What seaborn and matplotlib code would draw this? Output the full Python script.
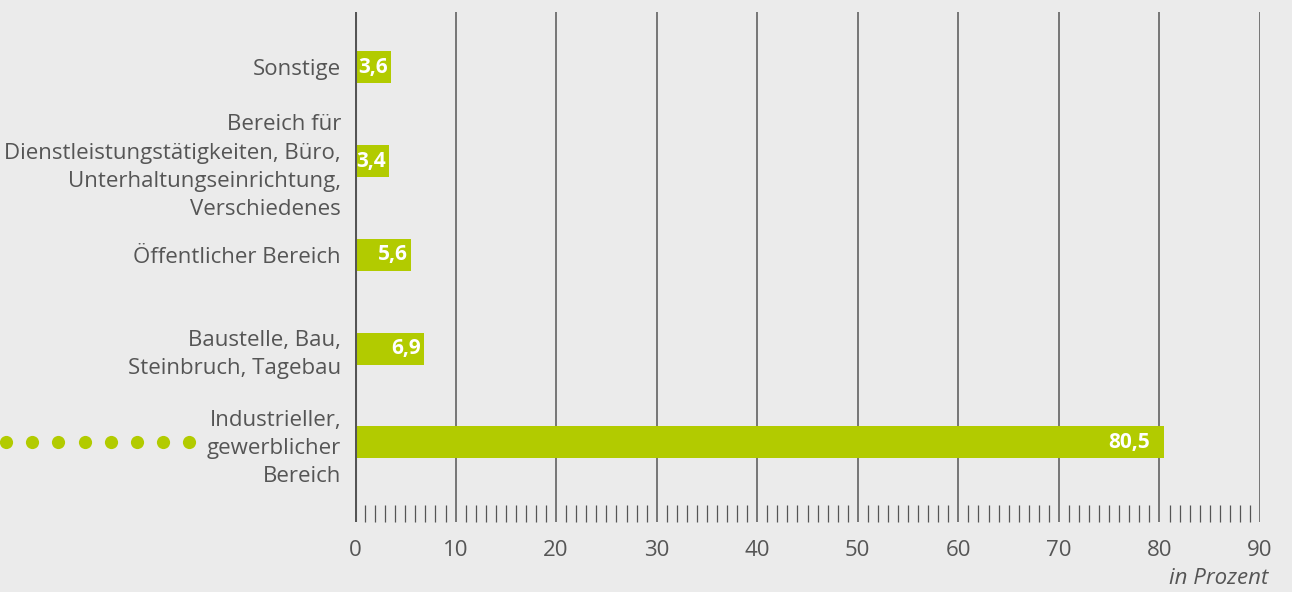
import matplotlib
matplotlib.use("Agg")
import matplotlib.pyplot as plt
import matplotlib.transforms as mtransforms
from matplotlib.ticker import MultipleLocator
import seaborn as sns
import pandas as pd

# Unfallorte (Anteile in Prozent)
categories = [
    "Sonstige",
    "Bereich für\nDienstleistungstätigkeiten, Büro,\nUnterhaltungseinrichtung,\nVerschiedenes",
    "Öffentlicher Bereich",
    "Baustelle, Bau,\nSteinbruch, Tagebau",
    "Industrieller,\ngewerblicher\nBereich",
]
values = [3.6, 3.4, 5.6, 6.9, 80.5]
value_labels = ["3,6", "3,4", "5,6", "6,9", "80,5"]
x_ticks = [0, 10, 20, 30, 40, 50, 60, 70, 80, 90]
x_unit = "in Prozent"

BG = "#ebebeb"
GREEN = "#b2cb00"
GREY = "#555555"
FS = 16

sns.set_theme(style="white")
plt.rcParams["font.family"] = ["Open Sans", "DejaVu Sans"]
plt.rcParams["figure.facecolor"] = BG
plt.rcParams["axes.facecolor"] = BG

df = pd.DataFrame({"Bereich": categories, "Anteil": values})

fig = plt.figure(figsize=(12.92, 5.92), dpi=100)
ax = fig.add_axes([355 / 1292, 1 - 522 / 592, 905 / 1292, 510 / 592])

sns.barplot(data=df, x="Anteil", y="Bereich", orient="h", color=GREEN,
            saturation=1, width=0.34, linewidth=0, ax=ax, zorder=3)

ax.set_xlim(0, 90)
ax.set_ylim(4.85, -0.59)
ax.set_xlabel("")
ax.set_ylabel("")
for s in ax.spines.values():
    s.set_visible(False)

# vertical grid at the major ticks, heavier line at zero
ax.set_xticks(x_ticks)
ax.set_xticklabels([str(t) for t in x_ticks])
for t in x_ticks:
    ax.axvline(t, color=GREY, lw=2.2 if t == 0 else 1.1, zorder=4 if t == 0 else 1)

ax.xaxis.set_minor_locator(MultipleLocator(1))
ax.tick_params(axis="x", which="major", length=0, pad=13, labelsize=FS, labelcolor=GREY)
ax.tick_params(axis="x", which="minor", direction="in", length=12, width=0.9,
               color=GREY, bottom=True)
ax.tick_params(axis="y", length=0, pad=10, labelsize=FS, labelcolor=GREY)
for lbl in ax.get_yticklabels():
    lbl.set_linespacing(1.45)
    lbl.set_multialignment("right")

# value labels inside the bars
for i, (v, txt) in enumerate(zip(values, value_labels)):
    off = -14 if v > 20 else -3
    ax.annotate(txt, xy=(v, i), xytext=(off, 0), textcoords="offset pixels",
                ha="right", va="center", color="white", fontsize=15,
                fontweight="bold", zorder=5)

# dotted lead-in marking the largest share
trans = mtransforms.blended_transform_factory(fig.transFigure, ax.transData)
dot_x = [6 / 1292 + k * 26.2 / 1292 for k in range(8)]
ax.scatter(dot_x, [4] * 8, s=90, color=GREEN, transform=trans, clip_on=False,
           linewidths=0, zorder=5)

fig.text(1268 / 1292, 1 - 578 / 592, x_unit, ha="right", va="center",
         fontsize=FS, style="italic", color=GREY)

fig.savefig("out.png", dpi=100, facecolor=BG)
